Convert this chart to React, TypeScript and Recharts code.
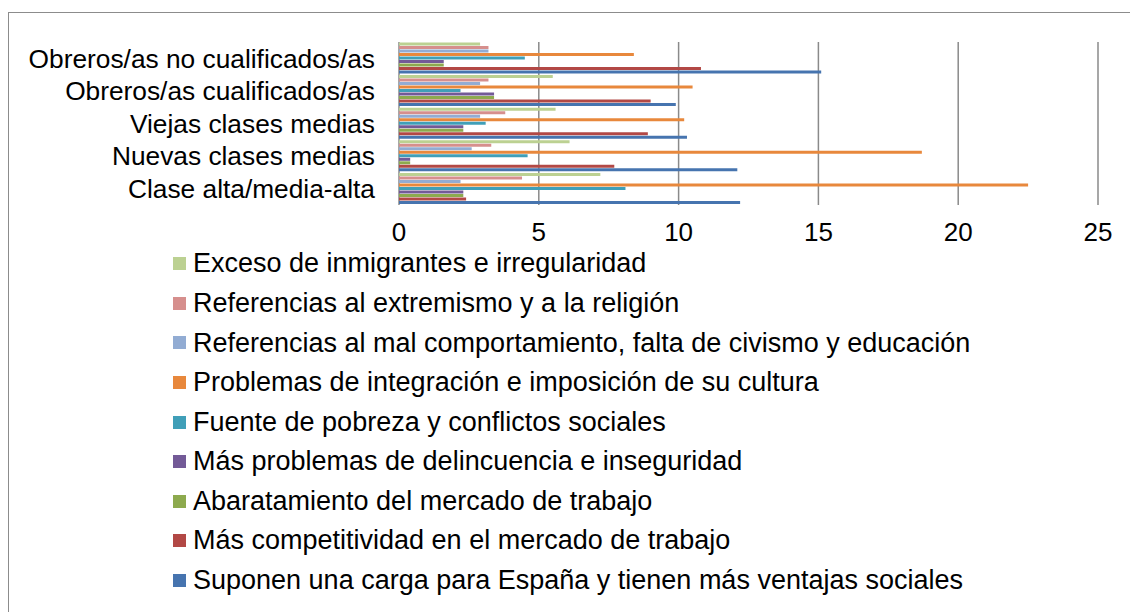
import { Bar, BarChart, CartesianGrid, XAxis, YAxis } from "recharts";

const categories = [
  "Obreros/as no cualificados/as",
  "Obreros/as cualificados/as",
  "Viejas clases medias",
  "Nuevas clases medias",
  "Clase alta/media-alta",
];

// series, in the order they appear in the legend (top bar of each group first)
const exceso = [2.9, 5.5, 5.6, 6.1, 7.2];
const extremismo = [3.2, 3.2, 3.8, 3.3, 4.4];
const malComportamiento = [3.2, 2.9, 2.9, 2.6, 2.2];
const integracion = [8.4, 10.5, 10.2, 18.7, 22.5];
const pobreza = [4.5, 2.2, 3.1, 4.6, 8.1];
const delincuencia = [1.6, 3.4, 2.3, 0.4, 2.3];
const abaratamiento = [1.6, 3.4, 2.3, 0.4, 2.3];
const competitividad = [10.8, 9.0, 8.9, 7.7, 2.4];
const carga = [15.1, 9.9, 10.3, 12.1, 12.2];

const xTicks = [0, 5, 10, 15, 20, 25];

const series = [
  { key: "exceso", name: "Exceso de inmigrantes e irregularidad", color: "#BCD192", values: exceso },
  { key: "extremismo", name: "Referencias al extremismo y a la religión", color: "#D68F8D", values: extremismo },
  { key: "mal", name: "Referencias al mal comportamiento, falta de civismo y educación", color: "#92ACD3", values: malComportamiento },
  { key: "integracion", name: "Problemas de integración e imposición de su cultura", color: "#E8883C", values: integracion },
  { key: "pobreza", name: "Fuente de pobreza y conflictos sociales", color: "#409FB8", values: pobreza },
  { key: "delincuencia", name: "Más problemas de delincuencia e inseguridad", color: "#735A97", values: delincuencia },
  { key: "abaratamiento", name: "Abaratamiento del mercado de trabajo", color: "#8DAA4E", values: abaratamiento },
  { key: "competitividad", name: "Más competitividad en el mercado de trabajo", color: "#B24845", values: competitividad },
  { key: "carga", name: "Suponen una carga para España y tienen más ventajas sociales", color: "#4674AF", values: carga },
];

const data = categories.map((cat, i) => {
  const row: Record<string, string | number> = { cat };
  series.forEach((s) => {
    row[s.key] = s.values[i];
  });
  return row;
});

const FONT = "'Liberation Sans', Arial, sans-serif";
const GRID = "#8A8A8A";

export default function App() {
  return (
    <div
      style={{
        position: "fixed",
        left: 0,
        top: 0,
        width: 1130,
        height: 612,
        background: "#fff",
        overflow: "hidden",
        fontFamily: FONT,
      }}
    >
      {/* chart frame, runs off the right and bottom edges */}
      <div
        style={{
          position: "absolute",
          left: 8,
          top: 12,
          width: 1140,
          height: 620,
          border: "1.5px solid #8C8C8C",
        }}
      />

      <div style={{ position: "absolute", left: 0, top: 0 }}>
        <BarChart
          width={1130}
          height={250}
          data={data}
          layout="vertical"
          margin={{ top: 42, right: 32, left: 0, bottom: 0 }}
          barCategoryGap={0.5}
          barGap={0.5}
        >
          <CartesianGrid horizontal={false} stroke={GRID} strokeWidth={1.5} />
          <XAxis
            type="number"
            domain={[0, 25]}
            ticks={xTicks}
            axisLine={false}
            tickLine={false}
            tickSize={0}
            tickMargin={18}
            height={45}
            interval={0}
            tick={{ fontSize: 26, fill: "#000", fontFamily: FONT }}
          />
          <YAxis
            type="category"
            dataKey="cat"
            width={399}
            axisLine={false}
            tickLine={false}
            tickSize={0}
            tickMargin={24}
            interval={0}
            tick={{ fontSize: 26.3, fill: "#000", fontFamily: FONT }}
          />
          {series.map((s) => (
            <Bar
              key={s.key}
              dataKey={s.key}
              name={s.name}
              fill={s.color}
              isAnimationActive={false}
            />
          ))}
        </BarChart>
      </div>

      {/* legend */}
      <div style={{ position: "absolute", left: 173, top: 244 }}>
        {series.map((s) => (
          <div
            key={s.key}
            style={{
              display: "flex",
              alignItems: "center",
              height: 39.6,
              color: "#000",
              whiteSpace: "nowrap",
            }}
          >
            <span
              style={{
                display: "inline-block",
                width: 13,
                height: 13,
                background: s.color,
                marginRight: 7,
              }}
            />
            <span
              style={{ display: "inline-block", fontSize: 27, lineHeight: 0.85 }}
            >
              {s.name}
            </span>
          </div>
        ))}
      </div>
    </div>
  );
}
